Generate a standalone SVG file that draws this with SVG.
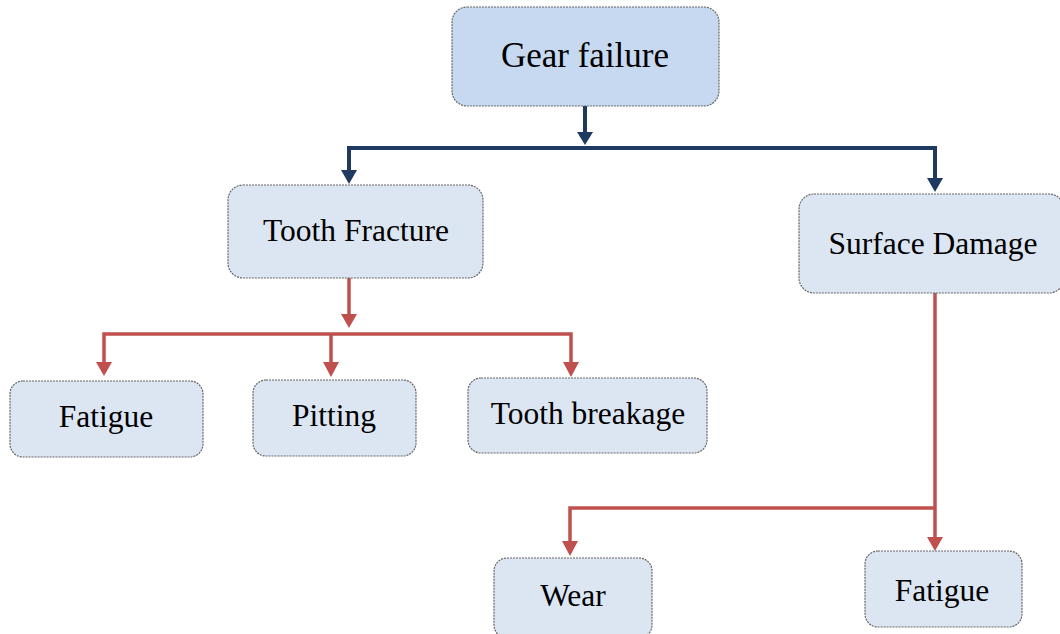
<svg xmlns="http://www.w3.org/2000/svg" width="1060" height="634" viewBox="0 0 1060 634">
<style>
.box{stroke:#666;stroke-width:1.2;stroke-dasharray:2 1}
.b1{fill:#c6d9f0}
.b2{fill:#dce6f2}
.t{font-family:"Liberation Serif",serif;fill:#000;text-anchor:middle;font-size:31.5px}
.blue{stroke:#1f3a60;stroke-width:4;fill:none}
.red{stroke:#c0504d;stroke-width:3.5;fill:none}
.ah-b{fill:#1f3a60}
.ah-r{fill:#c0504d}
</style>
<g id="connectors">
<path class="blue" d="M585,106 V134"/>
<path class="ah-b" d="M577,132 L593,132 L585,145 Z"/>
<path class="blue" d="M349,170 V148 H935 V180"/>
<path class="ah-b" d="M341,170 L357,170 L349,184 Z"/>
<path class="ah-b" d="M927,178 L943,178 L935,192 Z"/>
<path class="red" d="M349,278 V316"/>
<path class="ah-r" d="M341,314 L357,314 L349,328 Z"/>
<path class="red" d="M104,364 V334 H571 V364"/>
<path class="red" d="M331,334 V364"/>
<path class="ah-r" d="M96,362 L112,362 L104,376 Z"/>
<path class="ah-r" d="M323,362 L339,362 L331,377 Z"/>
<path class="ah-r" d="M563,362 L579,362 L571,377 Z"/>
<path class="red" d="M935,293 V538"/>
<path class="red" d="M935,508 H570 V542"/>
<path class="ah-r" d="M562,541 L578,541 L570,556 Z"/>
<path class="ah-r" d="M927,537 L943,537 L935,551 Z"/>
</g>
<g id="gear-failure">
<rect class="box b1" x="452" y="7" width="267" height="99" rx="15"/>
<text class="t" x="585" y="67" style="font-size:35px">Gear failure</text>
</g>
<g id="tooth-fracture">
<rect class="box b2" x="228" y="185" width="255" height="93" rx="15"/>
<text class="t" x="356" y="241">Tooth Fracture</text>
</g>
<g id="surface-damage">
<rect class="box b2" x="799" y="194" width="265" height="99" rx="15"/>
<text class="t" x="933" y="254">Surface Damage</text>
</g>
<g id="fatigue1">
<rect class="box b2" x="10" y="381" width="193" height="76" rx="13"/>
<text class="t" x="106" y="427">Fatigue</text>
</g>
<g id="pitting">
<rect class="box b2" x="253" y="380" width="163" height="76" rx="13"/>
<text class="t" x="334" y="426">Pitting</text>
</g>
<g id="tooth-breakage">
<rect class="box b2" x="468" y="378" width="239" height="75" rx="13"/>
<text class="t" x="588" y="424">Tooth breakage</text>
</g>
<g id="wear">
<rect class="box b2" x="494" y="558" width="158" height="80" rx="13"/>
<text class="t" x="573" y="606">Wear</text>
</g>
<g id="fatigue2">
<rect class="box b2" x="865" y="551" width="157" height="76" rx="13"/>
<text class="t" x="942" y="601">Fatigue</text>
</g>
</svg>
